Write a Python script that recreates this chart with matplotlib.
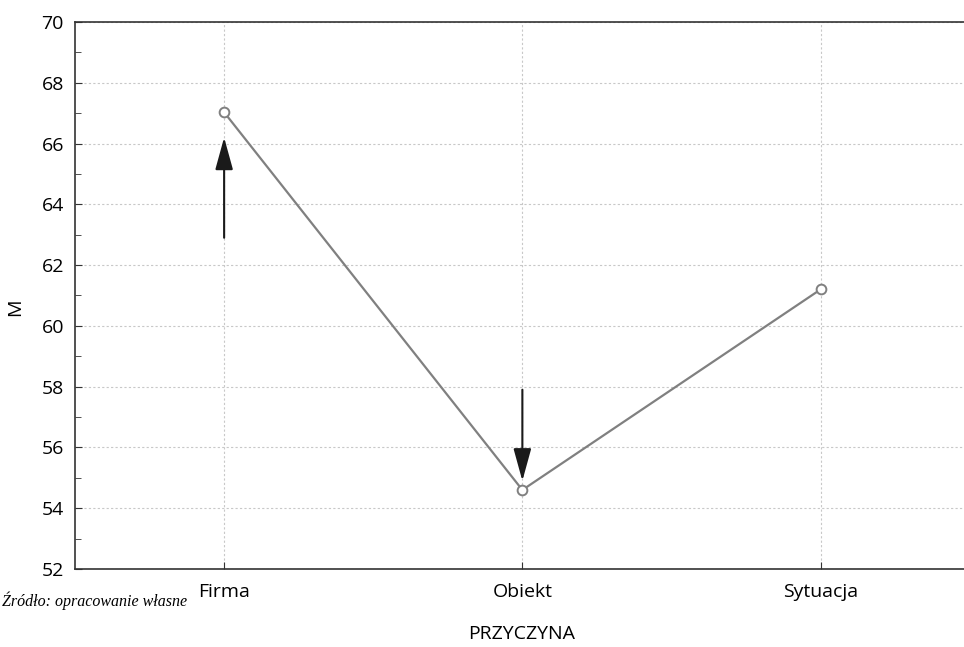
import matplotlib
matplotlib.use("Agg")
from matplotlib import pyplot as plt
import numpy as np

plt.rcParams['font.family'] = ['Open Sans', 'DejaVu Sans']

categories = ["Firma", "Obiekt", "Sytuacja"]
means = [67.03, 54.6, 61.2]
# arrows drawn on the chart: (category index, start value, end value)
arrows = [(0, 62.9, 66.2), (1, 57.9, 54.9)]

fig = plt.figure(figsize=(9.64, 6.47), dpi=100)
ax = fig.add_axes([0.0778, 0.1206, 0.94, 0.8454])

x = np.arange(len(categories))
ax.plot(x, means, color="#808080", lw=1.6, marker="o", markersize=7,
        markerfacecolor="white", markeredgecolor="#808080", markeredgewidth=1.4, zorder=3)

for i, y0, y1 in arrows:
    ax.annotate("", xy=(i, y1), xytext=(i, y0),
                arrowprops=dict(arrowstyle="-|>,head_length=2.0,head_width=0.55",
                                color="#1a1a1a", lw=1.5, shrinkA=0, shrinkB=0),
                zorder=4)

ax.set_xlim(-0.5, 2.5 + 0.012 * 3 / 0.94)
ax.set_ylim(52, 70)
ax.set_xticks(x)
ax.set_xticklabels(categories)
ax.set_yticks(np.arange(52, 71, 2))
ax.set_yticks(np.arange(53, 70, 2), minor=True)
ax.tick_params(axis="both", which="both", direction="in", labelsize=14, color="#333333")
ax.tick_params(axis="both", which="major", length=5)
ax.tick_params(axis="y", which="minor", length=4)
ax.tick_params(axis="x", pad=10)
ax.tick_params(axis="y", pad=8)
ax.grid(True, which="major", color="#c8c8c8", linestyle=(0, (2, 2)), lw=0.8)
ax.set_axisbelow(True)
for s in ax.spines.values():
    s.set_color("#333333")
    s.set_linewidth(1.2)

fig.text(15 / 964, 1 - 307 / 647, "M", rotation=90, ha="center", va="center", fontsize=14)
fig.text(522 / 964, 1 - 634 / 647, "PRZYCZYNA", ha="center", va="center", fontsize=14)
fig.text(2 / 964, 1 - 606 / 647, "Źródło: opracowanie własne", ha="left", va="baseline",
         fontsize=11.5, family=["Liberation Serif", "DejaVu Serif"], style="italic")

fig.savefig("out.png", dpi=100)
